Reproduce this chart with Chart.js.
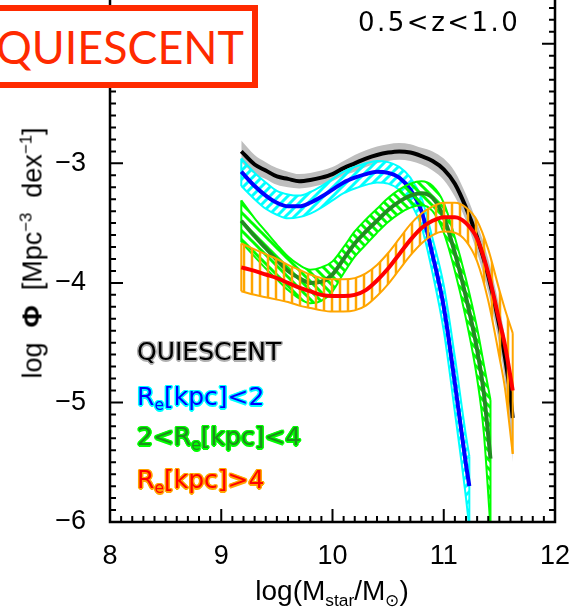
<!DOCTYPE html>
<html>
<head>
<meta charset="utf-8">
<script src="https://cdn.jsdelivr.net/npm/chart.js@4.4.1/dist/chart.umd.min.js"></script>
<style>
    html, body { margin: 0; padding: 0; background: #fff; overflow: hidden; }
    body { width: 576px; height: 614px; position: relative; font-family: "Liberation Sans", Arial, sans-serif; }
    #wrap { position: absolute; left: 0; top: -20px; width: 576px; height: 634px; }
    .txt { position: absolute; white-space: nowrap; line-height: 1; }
    .leg { position: absolute; left: 137px; font-family: "DejaVu Sans", sans-serif; font-size: 25px; line-height: 28px; white-space: nowrap; }
    sub { font-size: 0.62em; vertical-align: -0.35em; line-height: 0; }
    sup { font-size: 0.62em; vertical-align: 0.6em; line-height: 0; }
    #tag { position: absolute; left: -10px; top: 5px; width: 268px; height: 83px; box-sizing: border-box;
           border: 6px solid #ff2a00; background: #fff; overflow: hidden; }
    #tag span { position: absolute; left: 0px; top: 12px; font-size: 46px; line-height: 48px; color: #ff2a00;
                font-family: Lato, "Open Sans", sans-serif; transform-origin: 0 50%; }
</style>
</head>
<body>
<div id="wrap"><canvas id="smf" width="576" height="634"></canvas></div>

<div id="tag"><span id="tagText">QUIESCENT</span></div>
<div class="txt" style="left:358px; top:9px; font-family:'DejaVu Sans',sans-serif; font-size:26px; letter-spacing:2.5px;">0.5&lt;z&lt;1.0</div>

<div class="leg" style="top:338px; color:#000; text-shadow:1.5px 0 #b0b0b0,-1.5px 0 #b0b0b0,0 1.5px #b0b0b0,0 -1.5px #b0b0b0,1px 1px #b0b0b0,-1px -1px #b0b0b0,1px -1px #b0b0b0,-1px 1px #b0b0b0;">QUIESCENT</div>
<div class="leg" style="top:383px; color:#0000ff; text-shadow:1.5px 0 #00ffff,-1.5px 0 #00ffff,0 1.5px #00ffff,0 -1.5px #00ffff,1px 1px #00ffff,-1px -1px #00ffff,1px -1px #00ffff,-1px 1px #00ffff;">R<sub>e</sub>[kpc]&lt;2</div>
<div class="leg" style="top:423px; color:#1e8c1e; text-shadow:1.5px 0 #00ff00,-1.5px 0 #00ff00,0 1.5px #00ff00,0 -1.5px #00ff00,1px 1px #00ff00,-1px -1px #00ff00,1px -1px #00ff00,-1px 1px #00ff00;">2&lt;R<sub>e</sub>[kpc]&lt;4</div>
<div class="leg" style="top:466px; color:#ff0000; text-shadow:1.5px 0 #ffa500,-1.5px 0 #ffa500,0 1.5px #ffa500,0 -1.5px #ffa500,1px 1px #ffa500,-1px -1px #ffa500,1px -1px #ffa500,-1px 1px #ffa500;">R<sub>e</sub>[kpc]&gt;4</div>

<div class="txt" style="left:332px; top:591px; font-size:28px; transform:translate(-50%,-50%);">log(M<sub>star</sub>/M<sub>⊙</sub>)</div>
<div class="txt" style="left:33px; top:253px; font-size:27px; transform:translate(-50%,-50%) rotate(-90deg);">log&nbsp;&nbsp;<b>Φ</b>&nbsp;&nbsp;[Mpc<sup>−3</sup>&nbsp;&nbsp;dex<sup>−1</sup>]</div>

<script>
// Axis ranges and tick labels
const X_MIN = 8, X_MAX = 12;
const Y_MIN = -6, Y_MAX = -1.5;
const xTickValues = [8, 9, 10, 11, 12];
const yTickValues = [-6, -5, -4, -3, -2];

// All quiescent galaxies (black line, grey band)
const massQ = [9.18, 9.3, 9.4, 9.5, 9.6, 9.7, 9.8, 9.9, 10.0, 10.1, 10.2, 10.3, 10.4, 10.5, 10.6, 10.7, 10.8, 10.9, 11.0, 11.1, 11.2, 11.3, 11.4, 11.5, 11.55, 11.6, 11.62];
const phiQ   = [-2.90, -3.01, -3.06, -3.11, -3.13, -3.15, -3.14, -3.12, -3.09, -3.04, -3.00, -2.96, -2.93, -2.91, -2.90, -2.91, -2.94, -2.98, -3.05, -3.17, -3.37, -3.62, -3.94, -4.36, -4.62, -4.95, -5.13];
const phiQHi = [-2.81, -2.93, -2.99, -3.04, -3.07, -3.09, -3.08, -3.06, -3.03, -2.98, -2.93, -2.89, -2.86, -2.84, -2.83, -2.84, -2.87, -2.90, -2.96, -3.07, -3.26, -3.50, -3.80, -4.20, -4.45, -4.75, -4.88];
const phiQLo = [-2.99, -3.09, -3.13, -3.18, -3.20, -3.21, -3.20, -3.18, -3.15, -3.10, -3.07, -3.03, -3.00, -2.98, -2.97, -2.98, -3.01, -3.06, -3.14, -3.28, -3.48, -3.75, -4.08, -4.52, -4.82, -5.25, -5.50];

// Re < 2 kpc (blue line, cyan band)
const massS = [9.18, 9.3, 9.4, 9.5, 9.6, 9.7, 9.8, 9.9, 10.0, 10.1, 10.2, 10.3, 10.4, 10.5, 10.6, 10.7, 10.8, 10.9, 11.0, 11.1, 11.2, 11.23];
const phiS   = [-3.07, -3.19, -3.27, -3.33, -3.36, -3.36, -3.33, -3.28, -3.22, -3.16, -3.12, -3.09, -3.07, -3.08, -3.12, -3.22, -3.40, -3.77, -4.20, -4.84, -5.52, -5.70];
const phiSHi = [-2.96, -3.08, -3.16, -3.23, -3.26, -3.27, -3.24, -3.19, -3.13, -3.07, -3.03, -3.00, -2.98, -2.99, -3.03, -3.12, -3.29, -3.63, -4.02, -4.62, -5.28, -5.45];
const phiSLo = [-3.19, -3.30, -3.38, -3.43, -3.46, -3.45, -3.42, -3.37, -3.31, -3.25, -3.21, -3.18, -3.16, -3.17, -3.22, -3.33, -3.53, -3.92, -4.40, -5.08, -5.80, -6.05];

// 2 < Re < 4 kpc (dark green line, green band)
const massM = [9.18, 9.3, 9.4, 9.5, 9.6, 9.7, 9.8, 9.9, 10.0, 10.1, 10.2, 10.3, 10.4, 10.5, 10.6, 10.7, 10.8, 10.9, 11.0, 11.1, 11.2, 11.3, 11.36, 11.42];
const phiM   = [-3.48, -3.61, -3.71, -3.81, -3.90, -3.96, -4.00, -3.99, -3.93, -3.80, -3.67, -3.57, -3.48, -3.39, -3.32, -3.27, -3.25, -3.29, -3.45, -3.75, -4.12, -4.56, -4.92, -5.47];
const phiMHi = [-3.31, -3.46, -3.57, -3.68, -3.78, -3.85, -3.89, -3.87, -3.82, -3.70, -3.57, -3.47, -3.38, -3.29, -3.22, -3.17, -3.15, -3.19, -3.33, -3.62, -3.97, -4.38, -4.68, -4.98];
const phiMLo = [-3.66, -3.78, -3.88, -3.97, -4.06, -4.13, -4.17, -4.15, -4.07, -3.92, -3.78, -3.68, -3.58, -3.49, -3.42, -3.37, -3.35, -3.40, -3.58, -3.90, -4.30, -4.80, -5.25, -6.05];

// Re > 4 kpc (red line, orange band)
const massL = [9.18, 9.3, 9.4, 9.5, 9.6, 9.7, 9.8, 9.9, 10.0, 10.1, 10.2, 10.3, 10.4, 10.5, 10.6, 10.7, 10.8, 10.9, 11.0, 11.1, 11.2, 11.3, 11.4, 11.5, 11.55, 11.62];
const phiL   = [-3.87, -3.90, -3.93, -3.96, -4.00, -4.04, -4.07, -4.10, -4.11, -4.11, -4.10, -4.06, -3.98, -3.88, -3.76, -3.64, -3.54, -3.48, -3.45, -3.45, -3.50, -3.63, -3.92, -4.32, -4.52, -4.90];
const phiLHi = [-3.67, -3.72, -3.76, -3.80, -3.85, -3.89, -3.93, -3.96, -3.97, -3.97, -3.96, -3.92, -3.85, -3.75, -3.63, -3.51, -3.42, -3.36, -3.33, -3.33, -3.37, -3.48, -3.72, -4.06, -4.22, -4.42];
const phiLLo = [-4.07, -4.10, -4.12, -4.14, -4.16, -4.19, -4.21, -4.23, -4.24, -4.24, -4.23, -4.19, -4.11, -4.01, -3.89, -3.77, -3.67, -3.60, -3.57, -3.58, -3.65, -3.82, -4.15, -4.62, -4.88, -5.43];

// Pair masses with values
function pts(xs, ys) {
    return xs.map((x, i) => ({ x: x, y: ys[i] }));
}

// Hatch pattern for the bands: 'up' = /, 'down' = \, 'vert' = |
function hatch(color, kind, size, width) {
    const c = document.createElement('canvas');
    c.width = size; c.height = size;
    const g = c.getContext('2d');
    g.strokeStyle = color;
    g.lineWidth = width;
    g.beginPath();
    if (kind === 'vert') {
        g.moveTo(size / 2, 0); g.lineTo(size / 2, size);
    } else if (kind === 'up') {
        g.moveTo(-2, size + 2); g.lineTo(size + 2, -2);
        g.moveTo(-2, 2); g.lineTo(2, -2);
        g.moveTo(size - 2, size + 2); g.lineTo(size + 2, size - 2);
    } else {
        g.moveTo(-2, -2); g.lineTo(size + 2, size + 2);
        g.moveTo(size - 2, -2); g.lineTo(size + 2, 2);
        g.moveTo(-2, size - 2); g.lineTo(2, size + 2);
    }
    g.stroke();
    return g.createPattern(c, 'repeat');
}

const lineBase = { pointRadius: 0, cubicInterpolationMode: 'monotone', fill: false };

// Band = upper edge filled down to lower edge, plus the two closing edges
function band(mass, hi, lo, edge, bg, order) {
    const last = mass.length - 1;
    const w = edge ? 2 : 0;
    const col = edge || 'rgba(0,0,0,0)';
    return [
        { ...lineBase, data: pts(mass, hi), borderColor: col, borderWidth: w, backgroundColor: bg, fill: '+1', order: order },
        { ...lineBase, data: pts(mass, lo), borderColor: col, borderWidth: w, order: order },
        { ...lineBase, data: [{ x: mass[0], y: hi[0] }, { x: mass[0], y: lo[0] }], borderColor: col, borderWidth: w, order: order },
        { ...lineBase, data: [{ x: mass[last], y: hi[last] }, { x: mass[last], y: lo[last] }], borderColor: col, borderWidth: w, order: order }
    ];
}

function curve(mass, phi, color, order) {
    return { ...lineBase, data: pts(mass, phi), borderColor: color, borderWidth: 4, order: order };
}

// IDL-like frame with inward ticks
const framePlugin = {
    id: 'frame',
    afterDatasetsDraw(chart) {
        const { ctx, chartArea: a, scales: { x, y } } = chart;
        ctx.save();
        ctx.strokeStyle = '#000';
        ctx.lineWidth = 2.5;
        ctx.beginPath();
        ctx.moveTo(a.left, a.top); ctx.lineTo(a.left, a.bottom);
        ctx.lineTo(a.right, a.bottom); ctx.lineTo(a.right, a.top);
        ctx.stroke();
        ctx.lineWidth = 2;
        ctx.beginPath();
        for (let i = 0; i <= Math.round((X_MAX - X_MIN) * 10); i++) {
            const px = x.getPixelForValue(X_MIN + i * 0.1);
            const len = i % 10 === 0 ? 13 : 6;
            ctx.moveTo(px, a.bottom); ctx.lineTo(px, a.bottom - len);
        }
        for (let i = 0; i <= Math.round((Y_MAX - Y_MIN) * 10); i++) {
            const py = y.getPixelForValue(Y_MIN + i * 0.1);
            const len = i % 10 === 0 ? 13 : 6;
            ctx.moveTo(a.left, py); ctx.lineTo(a.left + len, py);
            ctx.moveTo(a.right, py); ctx.lineTo(a.right - len, py);
        }
        ctx.stroke();
        ctx.restore();
    }
};

const tickFont = { family: '"Liberation Sans", Arial, sans-serif', size: 27 };

const datasets = [].concat(
    band(massQ, phiQHi, phiQLo, null, '#bebebe', 20),
    [curve(massQ, phiQ, '#000000', 19)],
    band(massS, phiSHi, phiSLo, '#00ffff', hatch('#00ffff', 'up', 9, 3), 18),
    [curve(massS, phiS, '#0000ff', 17)],
    band(massM, phiMHi, phiMLo, '#00ff00', hatch('#00ff00', 'down', 9, 3), 16),
    [curve(massM, phiM, '#228b22', 15)],
    band(massL, phiLHi, phiLLo, '#ffa500', hatch('#ffa500', 'vert', 8, 2.5), 14),
    [curve(massL, phiL, '#ff0000', 13)]
);

new Chart(document.getElementById('smf'), {
    type: 'line',
    data: { datasets: datasets },
    options: {
        responsive: false,
        animation: false,
        events: [],
        layout: { padding: { top: 4, right: 21, left: 0, bottom: 0 } },
        plugins: { legend: { display: false }, tooltip: { enabled: false } },
        scales: {
            x: {
                type: 'linear',
                min: X_MIN,
                max: X_MAX,
                grid: { display: false },
                border: { display: false },
                afterBuildTicks: s => { s.ticks = xTickValues.map(v => ({ value: v })); },
                afterFit: s => { s.height = 92; s.paddingLeft = 0; s.paddingRight = 0; },
                ticks: { color: '#000', font: tickFont, padding: 10, maxRotation: 0, callback: v => String(v) }
            },
            y: {
                type: 'linear',
                min: Y_MIN,
                max: Y_MAX,
                grid: { display: false },
                border: { display: false },
                afterBuildTicks: s => { s.ticks = yTickValues.map(v => ({ value: v })); },
                afterFit: s => { s.width = 110; s.paddingTop = 0; s.paddingBottom = 0; },
                ticks: { color: '#000', font: tickFont, padding: 16, callback: v => '\u2212' + Math.abs(v) }
            }
        }
    },
    plugins: [framePlugin]
});

// Stretch the panel tag text to the width it has in the figure
const tagText = document.getElementById('tagText');
tagText.style.transform = 'scaleX(' + (248 / tagText.getBoundingClientRect().width) + ')';
</script>
</body>
</html>
